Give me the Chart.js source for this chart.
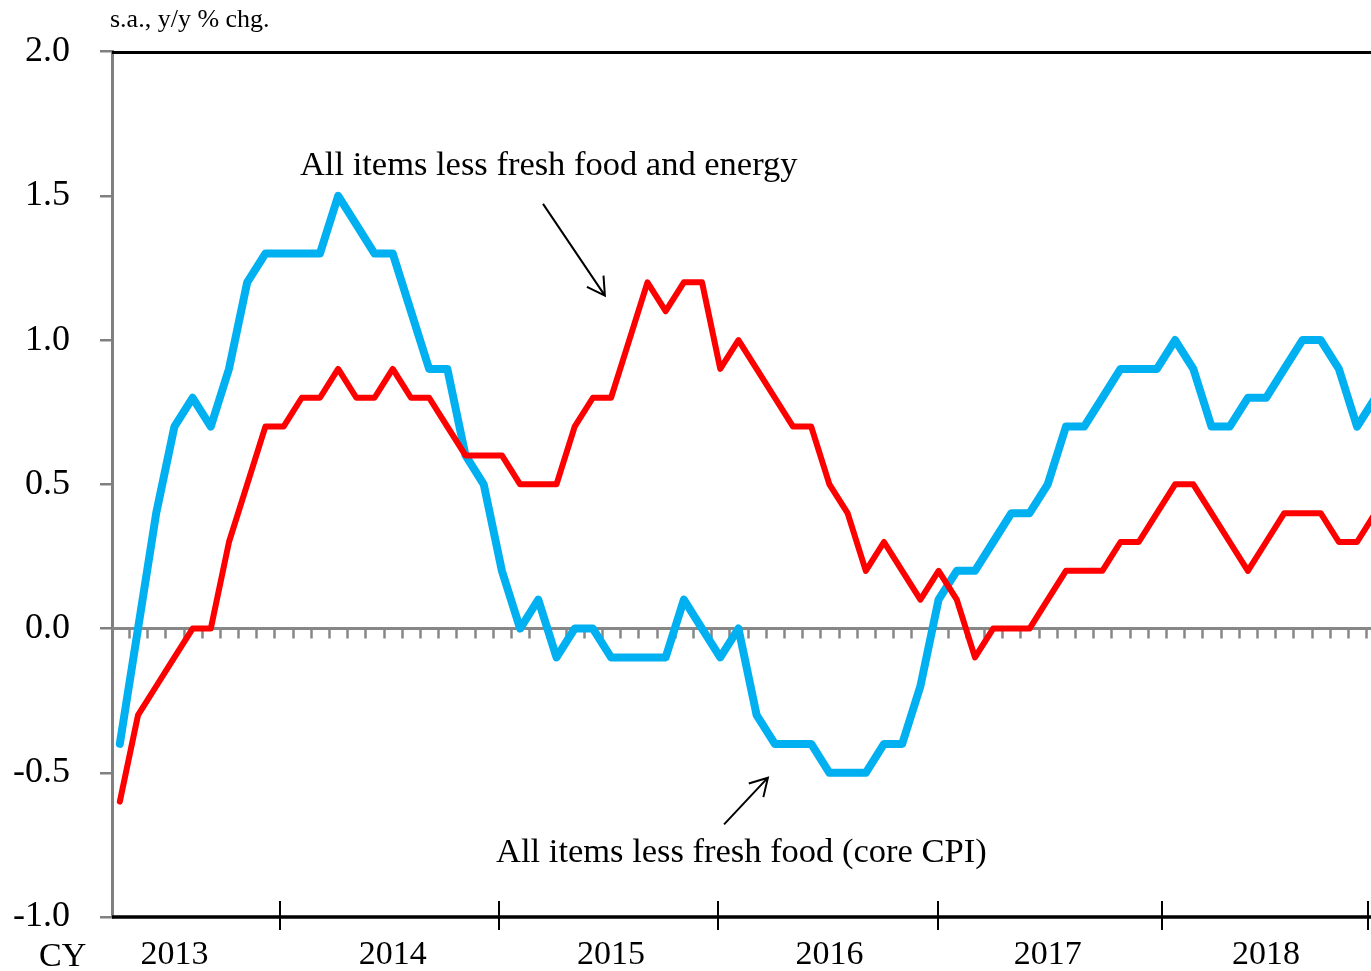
<!DOCTYPE html>
<html>
<head>
<meta charset="utf-8">
<script src="https://cdn.jsdelivr.net/npm/chart.js@4.4.1/dist/chart.umd.min.js"></script>
<style>
html,body{margin:0;padding:0;overflow:hidden;background:#fff;width:1371px;height:971px}
#wrap{position:relative;width:1400px;height:971px}
</style>
</head>
<body>
<div id="wrap"><canvas id="c" width="1400" height="971"></canvas></div>
<script>
// ---- data (monthly, Apr 2013 - Jan 2019) ----
const months = [
  '2013/04','2013/05','2013/06','2013/07','2013/08','2013/09','2013/10','2013/11','2013/12',
  '2014/01','2014/02','2014/03','2014/04','2014/05','2014/06','2014/07','2014/08','2014/09','2014/10','2014/11','2014/12',
  '2015/01','2015/02','2015/03','2015/04','2015/05','2015/06','2015/07','2015/08','2015/09','2015/10','2015/11','2015/12',
  '2016/01','2016/02','2016/03','2016/04','2016/05','2016/06','2016/07','2016/08','2016/09','2016/10','2016/11','2016/12',
  '2017/01','2017/02','2017/03','2017/04','2017/05','2017/06','2017/07','2017/08','2017/09','2017/10','2017/11','2017/12',
  '2018/01','2018/02','2018/03','2018/04','2018/05','2018/06','2018/07','2018/08','2018/09','2018/10','2018/11','2018/12',
  '2019/01'
];
// All items less fresh food (core CPI)
const coreCPI = [
  -0.4, 0.0, 0.4, 0.7, 0.8, 0.7, 0.9, 1.2, 1.3,
  1.3, 1.3, 1.3, 1.5, 1.4, 1.3, 1.3, 1.1, 0.9, 0.9, 0.6, 0.5,
  0.2, 0.0, 0.1, -0.1, 0.0, 0.0, -0.1, -0.1, -0.1, -0.1, 0.1, 0.0,
  -0.1, 0.0, -0.3, -0.4, -0.4, -0.4, -0.5, -0.5, -0.5, -0.4, -0.4, -0.2,
  0.1, 0.2, 0.2, 0.3, 0.4, 0.4, 0.5, 0.7, 0.7, 0.8, 0.9, 0.9,
  0.9, 1.0, 0.9, 0.7, 0.7, 0.8, 0.8, 0.9, 1.0, 1.0, 0.9, 0.7,
  0.8
];
// All items less fresh food and energy
const lessEnergy = [
  -0.6, -0.3, -0.2, -0.1, 0.0, 0.0, 0.3, 0.5, 0.7,
  0.7, 0.8, 0.8, 0.9, 0.8, 0.8, 0.9, 0.8, 0.8, 0.7, 0.6, 0.6,
  0.6, 0.5, 0.5, 0.5, 0.7, 0.8, 0.8, 1.0, 1.2, 1.1, 1.2, 1.2,
  0.9, 1.0, 0.9, 0.8, 0.7, 0.7, 0.5, 0.4, 0.2, 0.3, 0.2, 0.1,
  0.2, 0.1, -0.1, 0.0, 0.0, 0.0, 0.1, 0.2, 0.2, 0.2, 0.3, 0.3,
  0.4, 0.5, 0.5, 0.4, 0.3, 0.2, 0.3, 0.4, 0.4, 0.4, 0.3, 0.3,
  0.4
];
const yearLabels = ['2013','2014','2015','2016','2017','2018'];

// ---- axis configuration (month-index units) ----
const YEAR_LABEL_AT = [3, 15, 27, 39, 51, 63];
const YEAR_TICK_AT = [8.8, 20.84, 32.88, 44.97, 57.3, 68.6];
const X_MIN = -0.43, X_MAX = 70.36;

const FONT = '"Liberation Serif", "Times New Roman", serif';

const toXY = arr => arr.map((v, i) => ({x: i, y: v}));

const decor = {
  id: 'decor',
  beforeDatasetsDraw(chart) {
    const {ctx, chartArea: a, scales: {x, y}} = chart;
    const y0 = y.getPixelForValue(0);
    ctx.save();
    ctx.strokeStyle = '#878787';
    ctx.lineWidth = 3;
    ctx.beginPath(); ctx.moveTo(a.left, y0); ctx.lineTo(a.right, y0); ctx.stroke();
    ctx.lineWidth = 2.5;
    ctx.beginPath();
    for (let i = 0; i < months.length; i++) {
      const px = Math.round(x.getPixelForValue(i + 0.5)) + 0.5;
      ctx.moveTo(px, y0); ctx.lineTo(px, y0 + 10);
    }
    ctx.stroke();
    ctx.restore();
  },
  afterDraw(chart) {
    const {ctx, chartArea: a, scales: {x, y}} = chart;
    ctx.save();
    // top border & bottom axis line
    ctx.strokeStyle = '#000';
    ctx.lineWidth = 3;
    ctx.beginPath(); ctx.moveTo(a.left, a.top + 1); ctx.lineTo(a.right, a.top + 1); ctx.stroke();
    ctx.lineWidth = 3.5;
    ctx.beginPath(); ctx.moveTo(a.left, a.bottom); ctx.lineTo(a.right, a.bottom); ctx.stroke();
    // year ticks
    ctx.lineWidth = 2;
    ctx.beginPath();
    YEAR_TICK_AT.forEach(v => {
      const px = Math.round(x.getPixelForValue(v));
      ctx.moveTo(px, a.bottom - 16); ctx.lineTo(px, a.bottom + 13);
    });
    ctx.stroke();

    ctx.fillStyle = '#000';
    // CY label
    ctx.font = '34px ' + FONT;
    ctx.textAlign = 'left';
    ctx.textBaseline = 'alphabetic';
    ctx.fillText('CY', a.left - 73, 966);
    // unit label
    ctx.font = '26px ' + FONT;
    ctx.fillText('s.a., y/y % chg.', a.left - 2, 27);

    // annotations
    ctx.font = '34.5px ' + FONT;
    ctx.fillText('All items less fresh food and energy', x.getPixelForValue(9.9), y.getPixelForValue(1.572));
    ctx.fillText('All items less fresh food (core CPI)', x.getPixelForValue(20.68), y.getPixelForValue(-0.81));

    // arrows
    const arrow = (x1, y1, x2, y2) => {
      const p1 = [x.getPixelForValue(x1), y.getPixelForValue(y1)];
      const p2 = [x.getPixelForValue(x2), y.getPixelForValue(y2)];
      const ang = Math.atan2(p2[1] - p1[1], p2[0] - p1[0]);
      const L = 20, h = Math.PI / 6;
      ctx.strokeStyle = '#000';
      ctx.lineWidth = 2;
      ctx.beginPath();
      ctx.moveTo(p1[0], p1[1]); ctx.lineTo(p2[0], p2[1]);
      ctx.moveTo(p2[0] - L * Math.cos(ang - h), p2[1] - L * Math.sin(ang - h));
      ctx.lineTo(p2[0], p2[1]);
      ctx.lineTo(p2[0] - L * Math.cos(ang + h), p2[1] - L * Math.sin(ang + h));
      ctx.stroke();
    };
    arrow(23.26, 1.472, 26.66, 1.154);
    arrow(33.21, -0.679, 35.62, -0.517);
    ctx.restore();
  }
};

new Chart(document.getElementById('c'), {
  type: 'line',
  data: {
    datasets: [
      {
        label: 'All items less fresh food and energy',
        data: toXY(lessEnergy),
        borderColor: '#FF0000',
        borderWidth: 6,
        pointRadius: 0,
        tension: 0,
        borderJoinStyle: 'round',
        borderCapStyle: 'round',
        order: 1
      },
      {
        label: 'All items less fresh food (core CPI)',
        data: toXY(coreCPI),
        borderColor: '#00B0F0',
        borderWidth: 8,
        pointRadius: 0,
        tension: 0,
        borderJoinStyle: 'round',
        borderCapStyle: 'round',
        order: 2
      }
    ]
  },
  options: {
    responsive: false,
    animation: false,
    events: [],
    layout: {padding: {left: 0, top: 48, right: 0, bottom: 0}},
    plugins: {legend: {display: false}, tooltip: {enabled: false}},
    scales: {
      x: {
        type: 'linear',
        min: X_MIN,
        max: X_MAX,
        afterBuildTicks(s) { s.ticks = YEAR_LABEL_AT.map(v => ({value: v})); },
        afterFit(s) { s.height = 54; },
        grid: {display: false, drawTicks: false},
        border: {display: false},
        ticks: {
          autoSkip: false,
          maxRotation: 0,
          padding: 18,
          color: '#000',
          font: {family: FONT, size: 34},
          callback: (v) => yearLabels[YEAR_LABEL_AT.indexOf(v)]
        }
      },
      y: {
        min: -1,
        max: 2,
        afterFit(s) { s.width = 112; },
        grid: {drawOnChartArea: false, drawTicks: true, tickLength: 12, color: '#808080', lineWidth: 2.5},
        border: {display: true, color: '#808080', width: 3},
        ticks: {
          stepSize: 0.5,
          padding: 30,
          color: '#000',
          font: {family: FONT, size: 36},
          callback: (v) => Number(v).toFixed(1)
        }
      }
    }
  },
  plugins: [decor]
});
</script>
</body>
</html>
